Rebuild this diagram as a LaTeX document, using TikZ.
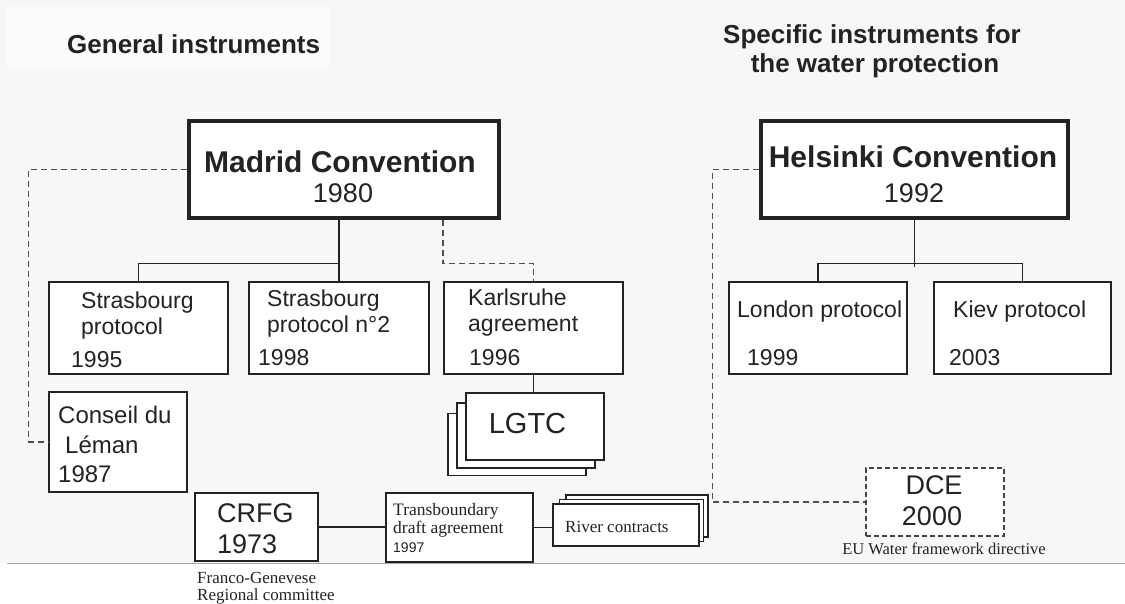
\documentclass[tikz,border=0pt]{standalone}
\usepackage{fontspec}
\setmainfont{Liberation Sans}
\newfontfamily\timesfont{Liberation Serif}
\usetikzlibrary{calc}
\newcommand{\setpx}[1]{\fontsize{#1}{#1}\selectfont}
\definecolor{inkgray}{RGB}{35,35,35}
\definecolor{paper}{RGB}{247,247,247}
\tikzstyle{bigbox}=[draw=inkgray,fill=white,line width=3.2pt,inner sep=0pt]
\tikzstyle{box}=[draw=inkgray,fill=white,line width=2.4pt,inner sep=0pt]
\tikzstyle{layer}=[draw=inkgray,fill=white,line width=1.2pt,inner sep=0pt]
\tikzstyle{dashbox}=[draw=inkgray!85,fill=white,line width=1.1pt,dash pattern=on 5pt off 3pt,inner sep=0pt]
\tikzstyle{link}=[draw=inkgray,line width=1.3pt]
\tikzstyle{dashlink}=[draw=inkgray!80,line width=1.1pt,dash pattern=on 6pt off 4pt]
\tikzstyle{txt}=[inner sep=0pt,anchor=base west,text=inkgray]
\begin{document}
\begin{tikzpicture}[x=1pt,y=-1pt]
    \useasboundingbox (0,0) rectangle (1125,603);
    \fill[paper] (0,0) rectangle (1125,563);
    \fill[white!60!paper] (7,7) rectangle (329,67);
    \draw[gray!70,line width=1pt] (7,563) -- (1125,563);

    % headings
    \node[txt] (gen) at (67,53) {\setpx{26}\bfseries General instruments};
    \node[txt,anchor=base] (spec1) at (872,43) {\setpx{26}\bfseries Specific instruments for};
    \node[txt,anchor=base] (spec2) at (875,72) {\setpx{26}\bfseries the water protection};

    % conventions
    \node[bigbox,minimum width=310,minimum height=97] (madrid) at (344,169.5) {};
    \node[txt,anchor=base] (madridT) at (340,172) {\setpx{30}\bfseries Madrid Convention};
    \node[txt,anchor=base] (madridY) at (343,202) {\setpx{27}1980};
    \node[bigbox,minimum width=307,minimum height=97] (helsinki) at (914.5,169.5) {};
    \node[txt,anchor=base] (helsinkiT) at (913,167) {\setpx{30}\bfseries Helsinki Convention};
    \node[txt,anchor=base] (helsinkiY) at (914,202) {\setpx{27}1992};

    % protocols
    \node[box,minimum width=179,minimum height=92] (sb1) at (138.5,328) {};
    \node[txt] (sb1a) at (81,308) {\setpx{23}Strasbourg};
    \node[txt] (sb1b) at (81,334) {\setpx{23}protocol};
    \node[txt] (sb1c) at (71,367) {\setpx{23}1995};
    \node[box,minimum width=180,minimum height=92] (sb2) at (339,328) {};
    \node[txt] (sb2a) at (267,306) {\setpx{23}Strasbourg};
    \node[txt] (sb2b) at (267,332) {\setpx{23}protocol n°2};
    \node[txt] (sb2c) at (258,365) {\setpx{23}1998};
    \node[box,minimum width=179,minimum height=92] (karls) at (533.5,328) {};
    \node[txt] (karlsa) at (468,305) {\setpx{23}Karlsruhe};
    \node[txt] (karlsb) at (468,331) {\setpx{23}agreement};
    \node[txt] (karlsc) at (469,365) {\setpx{23}1996};
    \node[box,minimum width=178,minimum height=92] (london) at (818,328) {};
    \node[txt] (londona) at (737,317) {\setpx{23}London protocol};
    \node[txt] (londonb) at (747,365) {\setpx{23}1999};
    \node[box,minimum width=177,minimum height=92] (kiev) at (1022.5,328) {};
    \node[txt] (kieva) at (953,317) {\setpx{23}Kiev protocol};
    \node[txt] (kievb) at (949,365) {\setpx{23}2003};

    % Leman, LGTC
    \node[box,minimum width=138,minimum height=100] (leman) at (118,442) {};
    \node[txt] (lemana) at (58,423) {\setpx{24}Conseil du};
    \node[txt] (lemanb) at (65,453) {\setpx{24}Léman};
    \node[txt] (lemanc) at (58,482) {\setpx{24}1987};
    \node[layer,minimum width=138,minimum height=62] (lgtc3) at (517,444.5) {};
    \node[layer,minimum width=138,minimum height=65] (lgtc2) at (526,435.5) {};
    \node[box,minimum width=138,minimum height=67] (lgtc) at (535,426.5) {};
    \node[txt,anchor=base] (lgtcT) at (527.5,433) {\setpx{29}LGTC};

    % bottom row
    \node[box,minimum width=123,minimum height=68] (crfg) at (256.5,527) {};
    \node[txt] (crfgT) at (217,522) {\setpx{27}CRFG};
    \node[txt] (crfgY) at (217,553) {\setpx{27}1973};
    \node[txt] (crfgN1) at (197,583) {\timesfont\setpx{17}Franco-Genevese};
    \node[txt] (crfgN2) at (197,600) {\timesfont\setpx{17}Regional committee};
    \node[box,minimum width=147,minimum height=69] (trans) at (459.5,527.5) {};
    \node[txt] (transa) at (393,515) {\timesfont\setpx{17.5}Transboundary};
    \node[txt] (transb) at (393,533) {\timesfont\setpx{17.5}draft agreement};
    \node[txt] (transc) at (393,552) {\setpx{14}1997};
    \node[layer,minimum width=142,minimum height=42] (river3) at (637,516) {};
    \node[layer,minimum width=144,minimum height=42] (river2) at (631.5,520.5) {};
    \node[box,minimum width=146,minimum height=42] (river) at (626,525) {};
    \node[txt] (riverT) at (565,532) {\timesfont\setpx{17}River contracts};
    \node[dashbox,minimum width=138,minimum height=68] (dce) at (935,502) {};
    \node[txt,anchor=base] (dceT) at (934,494) {\setpx{27}DCE};
    \node[txt,anchor=base] (dceY) at (932,525) {\setpx{27}2000};
    \node[txt,anchor=base] (dceN) at (944,554) {\timesfont\setpx{16.5}EU Water framework directive};

    % links
    \draw[link] (sb2.north) -- (sb2.north |- madrid.south);
    \draw[link] (sb1.north) -- ++(0,-17) -| (sb2.north);
    \draw[dashlink] ($(madrid.south)+(99,0)$) |- ($(karls.north)+(0,-17)$) -- (karls.north);
    \draw[dashlink] (madrid.west) -| ($(leman.west)+(-19,0)$) -- (leman.west);
    \draw[link] (karls.south) -- (karls.south |- lgtc.north);
    \draw[link] (helsinki.south) -- ($(helsinki.south)+(0,47)$);
    \draw[link] (london.north) -- ++(0,-17) -| (kiev.north);
    \draw[dashlink] (helsinki.west) -| ($(dce.west)+(-153,0)$) -- (dce.west);
    \draw[link] (crfg.east) -- (crfg.east -| trans.west);
    \draw[link] (trans.east) -- (trans.east -| river.west);
\end{tikzpicture}
\end{document}
